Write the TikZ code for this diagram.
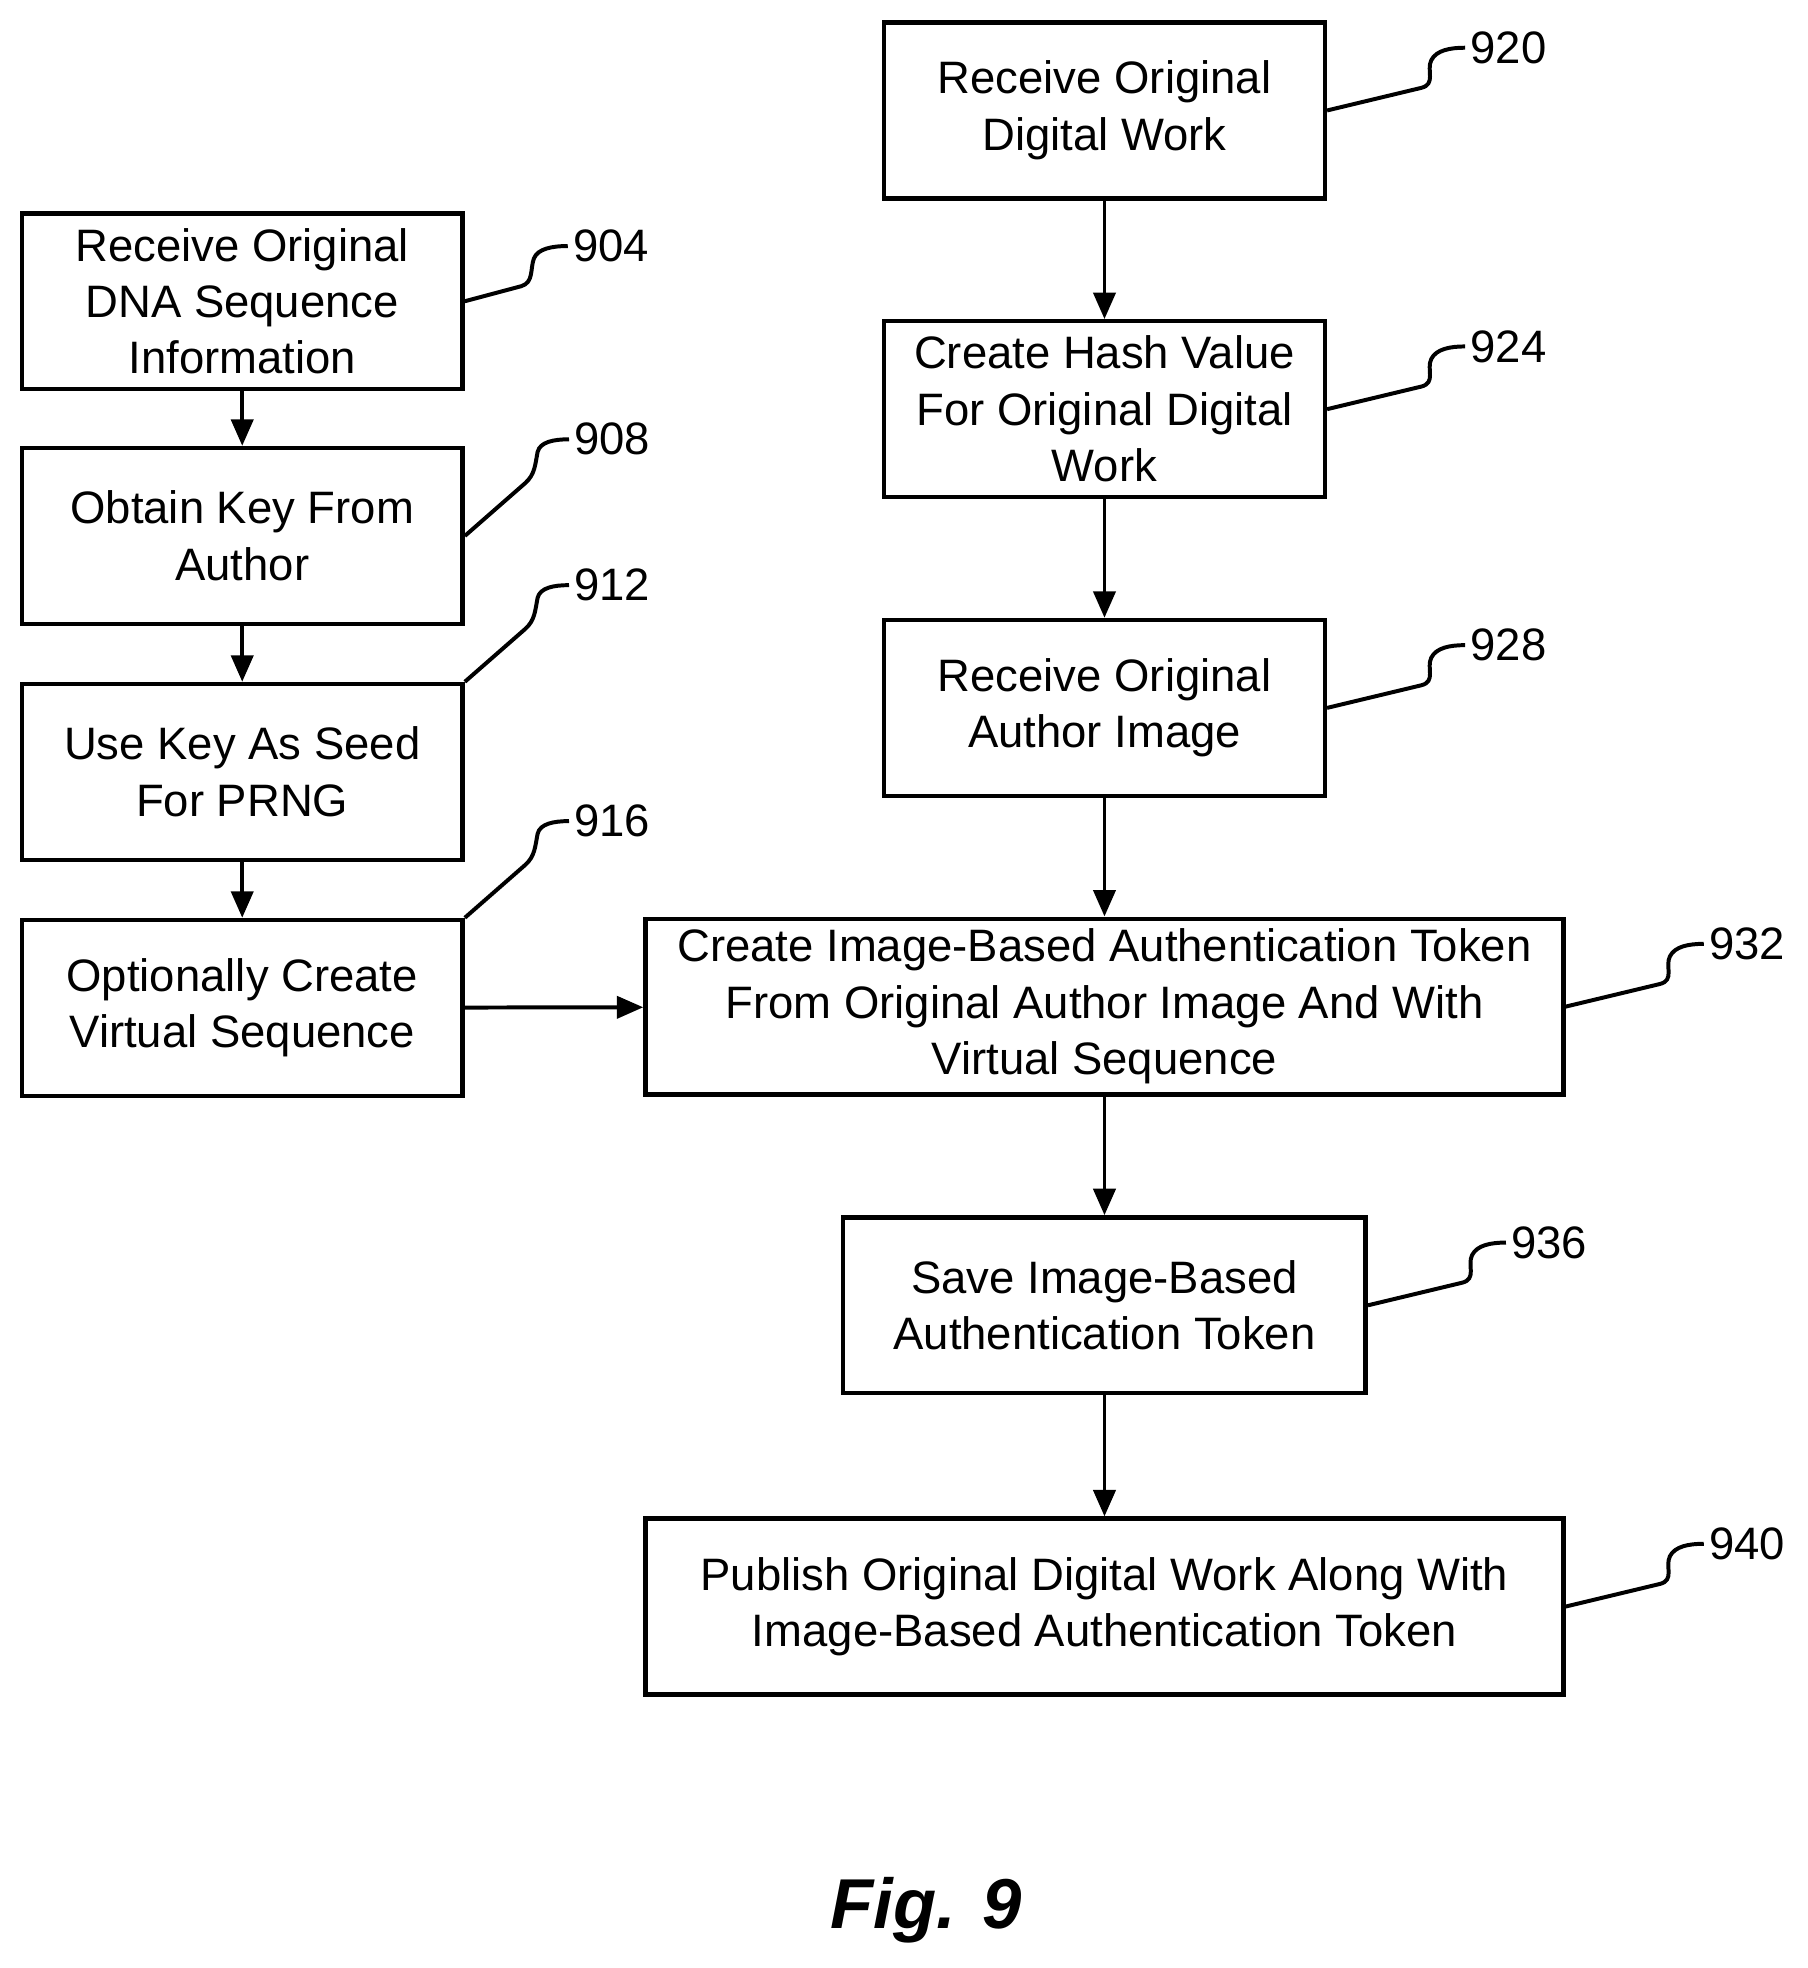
\documentclass[tikz,border=0pt]{standalone}
\usepackage{fontspec}
\setmainfont{Liberation Sans}
\usetikzlibrary{arrows.meta}
\tikzset{
  flowbox/.style={draw=black, line width=1pt, minimum height=1.4cm, align=center,
    inner sep=2pt, font=\fontsize{10.3}{12.8}\selectfont},
  flow/.style={-{Triangle[length=6pt,width=5pt]}, line width=0.9pt},
  lead/.style={line width=0.9pt},
  refno/.style={font=\fontsize{10.3}{12}\selectfont, anchor=west, inner sep=1pt}
}
% squiggle leader from a box side to its number
\newcommand{\sqlead}[2]{%
  \draw[lead] (#1.east) -- ++(75,-18) .. controls ++(12,-3) and ++(-4,8) .. ++(8,-22)
    .. controls ++(4,-8) and ++(-12,0) .. ++(27,-10) coordinate (#1-tip);
  \node[refno] at (#1-tip) {#2};}
% bent leader from a corner of a left box
\newcommand{\bnlead}[3]{%
  \draw[lead] (#1) -- ++(48,-42) .. controls ++(8,-7) and ++(-2,10) .. ++(10,-25)
    .. controls ++(2,-8) and ++(-12,0) .. ++(25,-10) coordinate (#2-tip);
  \node[refno] at (#2-tip) {#3};}
\begin{document}
\begin{tikzpicture}[x=0.01cm, y=-0.01cm]
\useasboundingbox (0,0) rectangle (1440,1568);
% right column
\node[flowbox, minimum width=3.51cm] (recv) at (880,88) {Receive Original\\Digital Work};
\node[flowbox, minimum width=3.51cm] (hash) at (880,326) {Create Hash Value\\For Original Digital\\Work};
\node[flowbox, minimum width=3.51cm] (img) at (880,564) {Receive Original\\Author Image};
\node[flowbox, minimum width=7.31cm] (token) at (880,802) {Create Image-Based Authentication Token\\From Original Author Image And With\\Virtual Sequence};
\node[flowbox, minimum width=4.16cm] (save) at (880,1040) {Save Image-Based\\Authentication Token};
\node[flowbox, minimum width=7.31cm] (pub) at (880,1280) {Publish Original Digital Work Along With\\Image-Based Authentication Token};
% left column
\node[flowbox, minimum width=3.51cm] (dna) at (193,240) {Receive Original\\DNA Sequence\\Information};
\node[flowbox, minimum width=3.51cm] (key) at (193,427) {Obtain Key From\\Author};
\node[flowbox, minimum width=3.51cm] (seed) at (193,615) {Use Key As Seed\\For PRNG};
\node[flowbox, minimum width=3.51cm] (virt) at (193,803) {Optionally Create\\Virtual Sequence};

\draw[flow] (recv) -- (hash);
\draw[flow] (hash) -- (img);
\draw[flow] (img) -- (token);
\draw[flow] (token) -- (save);
\draw[flow] (save) -- (pub);
\draw[flow] (dna) -- (key);
\draw[flow] (key) -- (seed);
\draw[flow] (seed) -- (virt);
\draw[flow] (virt) -- (token);

\sqlead{recv}{920}
\sqlead{hash}{924}
\sqlead{img}{928}
\sqlead{token}{932}
\sqlead{save}{936}
\sqlead{pub}{940}
\draw[lead] (dna.east) -- ++(45,-12) .. controls ++(10,-3) and ++(-3,8) .. ++(10,-22)
  .. controls ++(3,-8) and ++(-12,0) .. ++(27,-10) coordinate (dna-tip);
\node[refno] at (dna-tip) {904};
\bnlead{key.east}{key}{908}
\bnlead{seed.north east}{seed}{912}
\bnlead{virt.north east}{virt}{916}

\node[font=\bfseries\itshape\fontsize{16}{18}\selectfont] (fig) at (738,1522) {Fig. 9};
\end{tikzpicture}
\end{document}
